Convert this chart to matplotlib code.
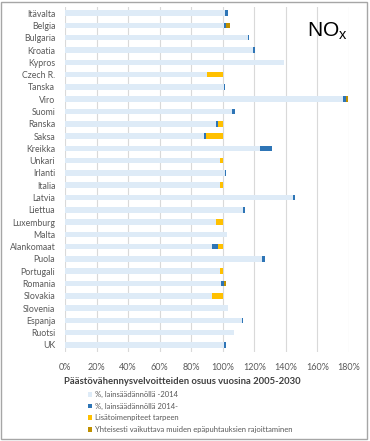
import numpy as np
import matplotlib
matplotlib.use("Agg")
import matplotlib.pyplot as plt
from matplotlib.patches import Rectangle

plt.rcParams['font.family'] = ['Lato', 'DejaVu Sans']

maat = ["Itävalta", "Belgia", "Bulgaria", "Kroatia", "Kypros", "Czech R.", "Tanska",
        "Viro", "Suomi", "Ranska", "Saksa", "Kreikka", "Unkari", "Irlanti", "Italia",
        "Latvia", "Liettua", "Luxemburg", "Malta", "Alankomaat", "Puola", "Portugali",
        "Romania", "Slovakia", "Slovenia", "Espanja", "Ruotsi", "UK"]

# prosentteja
ennen_2014 = [101.5, 101, 116, 119, 138.5, 90, 100.5, 176, 105.6, 96, 88, 123.7, 98, 101.5,
              98, 144.5, 112.5, 96, 102.5, 93, 125, 98, 99, 93, 103, 112.3, 106.8, 100.5]
jalkeen_2014 = [1.5, 1, 0.5, 1.7, 0.5, 0, 1, 2, 2, 1, 1.5, 7.8, 0, 0.4, 0,
                1.3, 1.3, 0, 0, 4.2, 1.7, 0, 1.7, 0, 0.5, 0.5, 0.6, 1.3]
lisatoimet = [0, 0, 0, 0, 0, 10, 0, 0, 0, 3, 10.5, 0, 2, 0, 2,
              0, 0, 4, 0, 2.8, 0, 2, 0, 7, 0, 0, 0, 0]
yhteisvaikutus = [0, 2.5, 0, 0, 0, 0, 0, 1.2, 0, 0, 0, 0, 0, 0, 0,
                  0, 0, 0, 0, 0, 0, 0, 1.6, 0, 0, 0, 0, 0]

sarjat = [
    ("%, lainsäädännöllä -2014", ennen_2014, "#deebf7"),
    ("%, lainsäädännöllä 2014-", jalkeen_2014, "#2e75b6"),
    ("Lisätoimenpiteet tarpeen", lisatoimet, "#ffc000"),
    ("Yhteisesti vaikuttava muiden epäpuhtauksien rajoittaminen", yhteisvaikutus, "#bf9000"),
]

fig = plt.figure(figsize=(3.7, 4.41), dpi=100)
ax = fig.add_axes([65 / 370, 1 - 352 / 441, 284 / 370, 345 / 441])

y = np.arange(len(maat))
vasen = np.zeros(len(maat))
palkit = []
for nimi, arvot, vari in sarjat:
    arvot = np.array(arvot)
    b = ax.barh(y, arvot, left=vasen, height=0.45, color=vari, label=nimi, zorder=3)
    palkit.append(b)
    vasen = vasen + arvot

ax.set_xlim(0, 180)
ax.set_ylim(len(maat) - 0.43, -0.5)
ax.set_yticks(y)
ax.set_yticklabels(maat, fontsize=6.3, color="#595959")
xt = np.arange(0, 181, 20)
ax.set_xticks(xt)
ax.set_xticklabels([f"{v}%" for v in xt], fontsize=6.5, color="#595959")
ax.tick_params(length=0, pad=8)
ax.tick_params(axis='y', pad=7)
ax.grid(axis='x', color="#d9d9d9", linewidth=0.8, zorder=0)
for s in ax.spines.values():
    s.set_visible(False)

ax.text(307 / 370, 1 - 36 / 441, r"NO$_{\mathregular{x}}$", transform=fig.transFigure,
        fontsize=15, color="black", family="Liberation Sans")

fig.text(182 / 370, 1 - 382 / 441, "Päästövähennysvelvoitteiden osuus vuosina 2005-2030",
         ha="center", va="center", fontsize=6.8, fontweight="bold", color="#404040")

fig.legend(handles=palkit, loc="upper left", bbox_to_anchor=(84 / 370, 1 - 387 / 441),
           frameon=False, fontsize=5.5, labelcolor="#595959", handlelength=0.6,
           handleheight=0.6, handletextpad=0.3, labelspacing=0.62, borderpad=0)

fig.patches.append(Rectangle((0.003, 0.004), 0.99, 0.992, transform=fig.transFigure,
                             fill=False, edgecolor="#a6a6a6", linewidth=1))

fig.savefig("out.png", dpi=100)
